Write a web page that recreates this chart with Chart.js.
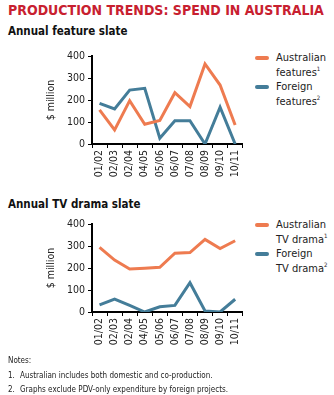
<!DOCTYPE html>
<html>
<head>
<meta charset="utf-8">
<script src="https://cdn.jsdelivr.net/npm/chart.js@4.4.0/dist/chart.umd.min.js"></script>
<style>
  body { margin: 0; background: #fff; width: 334px; height: 395px; position: relative; overflow: hidden; font-family: "DejaVu Sans Condensed", "DejaVu Sans", sans-serif; }
  .title { position: absolute; left: 8px; top: 2px; font-size: 14px; font-weight: bold; color: #c8202f; letter-spacing: 0; white-space: nowrap; }
  .sub { position: absolute; left: 8px; font-size: 11.5px; font-weight: bold; color: #111; white-space: nowrap; }
  .chart-box { position: absolute; left: 0; width: 250px; height: 145px; }
  .legend { position: absolute; left: 255px; font-size: 11px; color: #222; }
  .legend .line { position: relative; padding-left: 21px; height: 14.5px; line-height: 14.5px; white-space: nowrap; }
  .legend .sw { position: absolute; left: 0; top: 5px; width: 14px; height: 4px; border-radius: 2px; }
  .legend sup { font-size: 6px; line-height: 0; vertical-align: 5px; }
  .notes { position: absolute; left: 8px; top: 354px; font-size: 8px; color: #222; line-height: 14.5px; }
  .notes span { display: inline-block; width: 12px; }
</style>
</head>
<body>
<div class="title">PRODUCTION TRENDS: SPEND IN AUSTRALIA</div>
<div class="sub" style="top:24px">Annual feature slate</div>
<div class="chart-box" style="top:44px"><canvas id="featureChart"></canvas></div>
<div class="legend" style="top:51px">
  <div class="line"><div class="sw" style="background:#ee7b50"></div>Australian</div>
  <div class="line">features<sup>1</sup></div>
  <div class="line"><div class="sw" style="background:#447d99"></div>Foreign</div>
  <div class="line">features<sup>2</sup></div>
</div>

<div class="sub" style="top:197px">Annual TV drama slate</div>
<div class="chart-box" style="top:212px"><canvas id="tvChart"></canvas></div>
<div class="legend" style="top:218px">
  <div class="line"><div class="sw" style="background:#ee7b50"></div>Australian</div>
  <div class="line">TV drama<sup>1</sup></div>
  <div class="line"><div class="sw" style="background:#447d99"></div>Foreign</div>
  <div class="line">TV drama<sup>2</sup></div>
</div>

<div class="notes">
  Notes:<br>
  <span>1.</span>Australian includes both domestic and co-production.<br>
  <span>2.</span>Graphs exclude PDV-only expenditure by foreign projects.
</div>

<script>
const years = ["01/02", "02/03", "02/04", "04/05", "05/06", "06/07", "07/08", "08/09", "09/10", "10/11"];
const yTicks = [0, 100, 200, 300, 400];

const ausFeatures = [155, 64, 197, 90, 107, 233, 170, 364, 268, 86];
const foreignFeatures = [185, 159, 245, 253, 26, 106, 106, 0, 167, 0];

const ausTv = [294, 236, 195, 199, 203, 267, 270, 330, 288, 324];
const foreignTv = [32, 59, 30, 0, 24, 30, 133, 5, 0, 58];

const orange = '#ee7b50';
const blue = '#447d99';
const fontFamily = '"DejaVu Sans Condensed", "DejaVu Sans", sans-serif';

function makeChart(id, ausData, foreignData) {
    const ctx = document.getElementById(id).getContext('2d');
    return new Chart(ctx, {
        type: 'line',
        data: {
            labels: years,
            datasets: [
                { label: 'Australian', data: ausData, borderColor: orange, borderWidth: 3, pointRadius: 0, fill: false, tension: 0 },
                { label: 'Foreign', data: foreignData, borderColor: blue, borderWidth: 3, pointRadius: 0, fill: false, tension: 0 }
            ]
        },
        options: {
            responsive: true,
            maintainAspectRatio: false,
            animation: false,
            layout: { padding: { top: 12, right: 5, left: 0, bottom: 0 } },
            plugins: { legend: { display: false }, tooltip: { enabled: false } },
            scales: {
                x: {
                    offset: true,
                    grid: { display: true, offset: true, drawOnChartArea: false, drawTicks: true, tickLength: 4, color: '#000', lineWidth: 1 },
                    border: { display: true, color: '#000', width: 2 },
                    ticks: { color: '#222', font: { family: fontFamily, size: 10.5 }, maxRotation: 90, minRotation: 90, autoSkip: false, padding: 2 },
                    afterFit: function (scale) { scale.height = 45; }
                },
                y: {
                    min: 0,
                    max: 400,
                    afterBuildTicks: function (scale) { scale.ticks = yTicks.map(v => ({ value: v })); },
                    grid: { display: true, drawOnChartArea: false, drawTicks: true, tickLength: 4, color: '#000', lineWidth: 1 },
                    border: { display: true, color: '#000', width: 2 },
                    ticks: { color: '#222', font: { family: fontFamily, size: 10.5 }, padding: 3 },
                    title: { display: true, text: '$ million', color: '#222', font: { family: fontFamily, size: 10.5 }, padding: { top: 45, bottom: 0 } },
                    afterFit: function (scale) { scale.width = 92; }
                }
            }
        }
    });
}

makeChart('featureChart', ausFeatures, foreignFeatures);
makeChart('tvChart', ausTv, foreignTv);
</script>
</body>
</html>
